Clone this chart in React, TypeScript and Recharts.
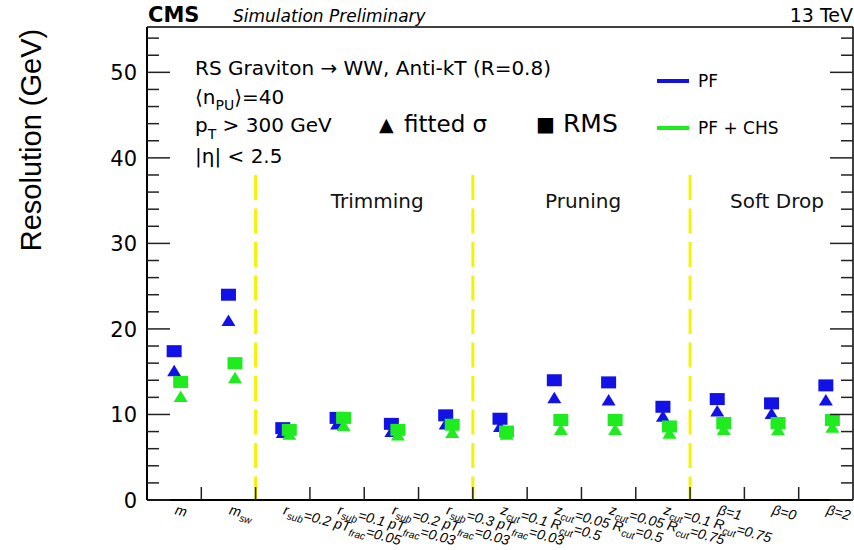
import React from 'react';
import { ScatterChart, Scatter, XAxis, YAxis, ReferenceLine, ReferenceDot, Legend } from 'recharts';

// ---- data ----
const categories = ['m', 'm_sw', 'trim1', 'trim2', 'trim3', 'trim4', 'prun1', 'prun2', 'prun3', 'prun4', 'sd1', 'sd0', 'sd2'];

// tick label pieces: [text, isSubscript]
const categoryLabels: [string, boolean][][] = [
  [['m', false]],
  [['m', false], ['sw', true]],
  [['r', false], ['sub', true], ['=0.2 pT', false], ['frac', true], ['=0.05', false]],
  [['r', false], ['sub', true], ['=0.1 pT', false], ['frac', true], ['=0.03', false]],
  [['r', false], ['sub', true], ['=0.2 pT', false], ['frac', true], ['=0.03', false]],
  [['r', false], ['sub', true], ['=0.3 pT', false], ['frac', true], ['=0.03', false]],
  [['z', false], ['cut', true], ['=0.1 R', false], ['cut', true], ['=0.5', false]],
  [['z', false], ['cut', true], ['=0.05 R', false], ['cut', true], ['=0.5', false]],
  [['z', false], ['cut', true], ['=0.05 R', false], ['cut', true], ['=0.75', false]],
  [['z', false], ['cut', true], ['=0.1 R', false], ['cut', true], ['=0.75', false]],
  [['β=1', false]],
  [['β=0', false]],
  [['β=2', false]],
];

const pfRms = [17.4, 24.0, 8.4, 9.6, 8.9, 9.9, 9.5, 14.0, 13.75, 10.9, 11.8, 11.3, 13.4];
const pfFit = [15.1, 21.0, 7.9, 8.9, 8.0, 8.9, 8.6, 11.95, 11.7, 9.8, 10.4, 10.1, 11.7];
const chsRms = [13.8, 16.0, 8.2, 9.6, 8.2, 8.8, 8.0, 9.35, 9.35, 8.6, 9.0, 9.0, 9.35];
const chsFit = [12.1, 14.3, 7.7, 8.7, 7.6, 7.9, 7.7, 8.25, 8.25, 7.8, 8.25, 8.2, 8.5];

const yTicks = [0, 2, 4, 6, 8, 10, 12, 14, 16, 18, 20, 22, 24, 26, 28, 30, 32, 34, 36, 38, 40, 42, 44, 46, 48, 50, 52, 54];
const sectionBoundaries = [2, 6, 10];
const sectionNames = ['Trimming', 'Pruning', 'Soft Drop'];

const CHS_SHIFT = 0.12; // PF+CHS markers are drawn slightly right of PF markers

const toPoints = (vals: number[], shift: number) => vals.map((v, i) => ({ x: i + 0.5 + shift, y: v, cat: categories[i] }));
const pfRmsData = toPoints(pfRms, 0);
const pfFitData = toPoints(pfFit, 0);
const chsRmsData = toPoints(chsRms, CHS_SHIFT);
const chsFitData = toPoints(chsFit, CHS_SHIFT);

const bottomTicks = categories.flatMap((_, i) => (i === 0 ? [0.5] : [i, i + 0.5]));
const boundaryTicks = categories.slice(1).map((_, i) => i + 1);

// ---- style ----
const BLUE = '#1212e6';
const GREEN = '#1eec1e';
const YELLOW = '#f4f400';
const TICK = '#222';
const FONT = 'DejaVu Sans';

const square = (color: string) => (props: any) => {
  const { cx, cy } = props;
  return <rect x={cx - 7.5} y={cy - 6} width={15} height={12} fill={color} />;
};
const triangle = (color: string) => (props: any) => {
  const { cx, cy } = props;
  return <polygon points={`${cx},${cy - 6} ${cx + 7},${cy + 5.5} ${cx - 7},${cy + 5.5}`} fill={color} />;
};

const LeftTick = (props: any) => {
  const { x, y, payload } = props;
  const v = payload.value;
  const major = v % 10 === 0;
  return (
    <g>
      <line x1={x} x2={x + (major ? 23 : 12)} y1={y} y2={y} stroke={TICK} strokeWidth={1.5} />
      {major && (
        <text x={x - 10} y={y + 8} textAnchor="end" fontSize={21} fontFamily={FONT} fill="#000">
          {v}
        </text>
      )}
    </g>
  );
};

const RightTick = (props: any) => {
  const { x, y, payload } = props;
  const v = payload.value;
  const major = v % 10 === 0;
  return <line x1={x} x2={x - (major ? 23 : 12)} y1={y} y2={y} stroke={TICK} strokeWidth={1.5} />;
};

const TopTick = (props: any) => {
  const { x, y } = props;
  return <line x1={x} x2={x} y1={y} y2={y + 13} stroke={TICK} strokeWidth={1.5} />;
};

const BottomTick = (props: any) => {
  const { x, y, payload } = props;
  const v = payload.value;
  if (Number.isInteger(v)) {
    return <line x1={x} x2={x} y1={y} y2={y - 13} stroke={TICK} strokeWidth={1.5} />;
  }
  const parts = categoryLabels[Math.floor(v)];
  const tx = x;
  const ty = y + 14;
  let prevSub = false;
  return (
    <text
      x={tx}
      y={ty}
      transform={`rotate(15 ${tx} ${ty})`}
      fontSize={14}
      fontStyle="italic"
      fontFamily="Liberation Sans"
      fill="#000"
    >
      {parts.map(([s, sub], i) => {
        const dy = sub && !prevSub ? 4 : !sub && prevSub ? -4 : 0;
        prevSub = sub;
        return (
          <tspan key={i} dy={dy} fontSize={sub ? 10 : 14}>
            {s}
          </tspan>
        );
      })}
    </text>
  );
};

const LegendContent = () => (
  <div style={{ position: 'relative', width: 150, height: 80, fontFamily: FONT, fontSize: 17, color: '#000' }}>
    <div style={{ position: 'absolute', left: 0, top: 9, width: 32, height: 4, background: BLUE }} />
    <div style={{ position: 'absolute', left: 41, top: 0, lineHeight: '22px' }}>PF</div>
    <div style={{ position: 'absolute', left: 0, top: 56, width: 32, height: 4, background: GREEN }} />
    <div style={{ position: 'absolute', left: 41, top: 47, lineHeight: '22px' }}>PF + CHS</div>
  </div>
);

export default function App() {
  return (
    <div style={{ position: 'absolute', left: 0, top: 0, width: 854, height: 550, background: '#fff' }}>
      <ScatterChart width={854} height={550} margin={{ top: 27, right: 1, bottom: 0, left: 0 }}>
        <XAxis
          xAxisId="b"
          type="number"
          dataKey="x"
          domain={[0, 13]}
          allowDataOverflow
          ticks={bottomTicks}
          interval={0}
          tick={<BottomTick />}
          tickLine={false}
          tickSize={0}
          tickMargin={0}
          height={50}
          axisLine={{ stroke: '#000', strokeWidth: 2 }}
        />
        <XAxis
          xAxisId="t"
          orientation="top"
          mirror
          type="number"
          domain={[0, 13]}
          allowDataOverflow
          ticks={boundaryTicks}
          interval={0}
          tick={<TopTick />}
          tickLine={false}
          tickSize={0}
          tickMargin={0}
          axisLine={{ stroke: '#000', strokeWidth: 1.5 }}
        />
        <YAxis
          yAxisId="l"
          type="number"
          dataKey="y"
          domain={[0, 55.3]}
          allowDataOverflow
          ticks={yTicks}
          interval={0}
          tick={<LeftTick />}
          tickLine={false}
          tickSize={0}
          tickMargin={0}
          width={147}
          axisLine={{ stroke: '#000', strokeWidth: 2 }}
        />
        <YAxis
          yAxisId="r"
          orientation="right"
          mirror
          type="number"
          domain={[0, 55.3]}
          allowDataOverflow
          ticks={yTicks}
          interval={0}
          tick={<RightTick />}
          tickLine={false}
          tickSize={0}
          tickMargin={0}
          axisLine={{ stroke: '#000', strokeWidth: 1.5 }}
        />
        {sectionBoundaries.map((b) => (
          <ReferenceLine
            key={b}
            xAxisId="b"
            yAxisId="l"
            segment={[{ x: b, y: 38 }, { x: b, y: 0 }]}
            stroke={YELLOW}
            strokeWidth={3}
            strokeDasharray="25 8.5"
            ifOverflow="visible"
          />
        ))}
        {sectionNames.map((name, i) => (
          <ReferenceDot
            key={name}
            xAxisId="b"
            yAxisId="l"
            x={[4.24, 8.03, 11.6][i]}
            y={35}
            r={0}
            stroke="none"
            fill="none"
            label={{ value: name, position: 'center', fill: '#111', fontSize: 20, fontFamily: FONT }}
          />
        ))}
        <Scatter name="PF fitted" xAxisId="b" yAxisId="l" data={pfFitData} shape={triangle(BLUE)} isAnimationActive={false} />
        <Scatter name="PF RMS" xAxisId="b" yAxisId="l" data={pfRmsData} shape={square(BLUE)} isAnimationActive={false} />
        <Scatter name="PF+CHS fitted" xAxisId="b" yAxisId="l" data={chsFitData} shape={triangle(GREEN)} isAnimationActive={false} />
        <Scatter name="PF+CHS RMS" xAxisId="b" yAxisId="l" data={chsRmsData} shape={square(GREEN)} isAnimationActive={false} />
        <Legend
          layout="horizontal"
          verticalAlign="middle"
          align="center"
          wrapperStyle={{ position: 'absolute', left: 657, top: 70, width: 150, height: 80 }}
          content={<LegendContent />}
        />
      </ScatterChart>
      <svg
        width={854}
        height={550}
        style={{ position: 'absolute', left: 0, top: 0, pointerEvents: 'none' }}
        fontFamily={FONT}
        fill="#000"
      >
        <text x={148} y={22} fontWeight="bold" fontSize={21}>CMS</text>
        <text x={233} y={22} fontStyle="italic" fontSize={17}>Simulation Preliminary</text>
        <text x={853} y={22} textAnchor="end" fontSize={19}>13 TeV</text>
        <text x={41} y={140} transform="rotate(-90 41 140)" textAnchor="middle" fontSize={29} fontFamily="Liberation Sans">
          Resolution (GeV)
        </text>
        <text x={195} y={75} fontSize={20}>RS Graviton → WW, Anti-kT (R=0.8)</text>
        <text x={195} y={104} fontSize={20}>
          <tspan>⟨n</tspan>
          <tspan fontSize={14} dy={6}>PU</tspan>
          <tspan dy={-6}>⟩=40</tspan>
        </text>
        <text x={195} y={132} fontSize={20}>
          <tspan>p</tspan>
          <tspan fontSize={14} dy={7}>T</tspan>
          <tspan dy={-7}> &gt; 300 GeV</tspan>
        </text>
        <text x={195} y={163} fontSize={20}>|η| &lt; 2.5</text>
        <text x={379} y={131} fontSize={19}>▲</text>
        <text x={404} y={132} fontSize={23}>fitted σ</text>
        <text x={536} y={131} fontSize={20}>■</text>
        <text x={563} y={132} fontSize={25}>RMS</text>
      </svg>
    </div>
  );
}
